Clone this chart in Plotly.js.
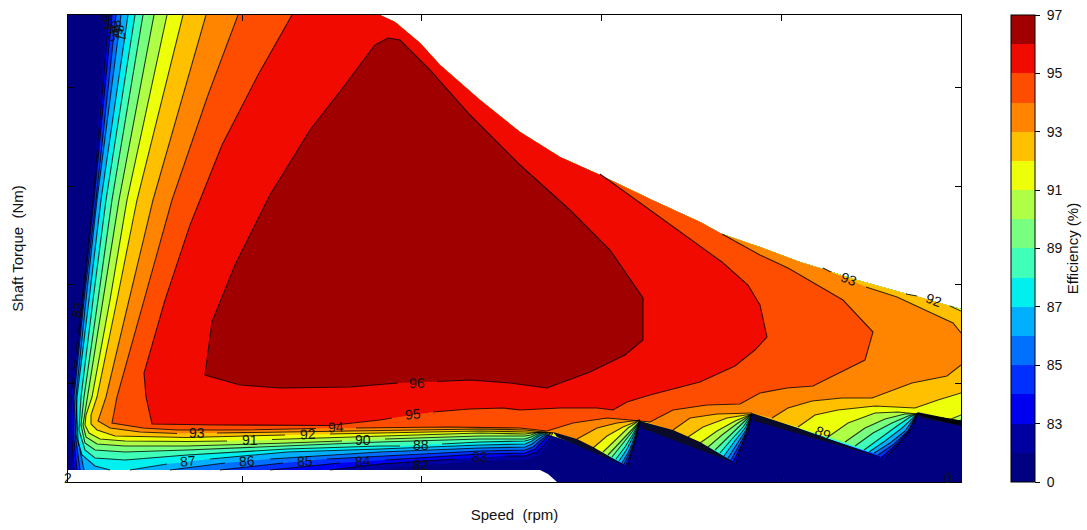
<!DOCTYPE html>
<html><head><meta charset="utf-8">
<script src="https://cdn.plot.ly/plotly-3.0.1.min.js"></script>
<style>html,body{margin:0;padding:0;background:#fff}#g{width:1087px;height:530px}</style>
</head><body><div id="g"></div>
<script>
// Efficiency levels and band colours (lowest band first)
const levelNames = ['0','83','85','87','89','91','93','95','97'];
const bandColors = ['#000080','#0000a0','#0000f0','#0030ff','#0070ff','#00b0ff','#00f0f0','#40ffb8','#78ff80','#b0ff47','#eeff0a','#ffc000','#ff8500','#ff4d00','#f00a00','#a00000'];

// Edge of the operating region: speed (rpm), torque (Nm)
const speedRim  = [8930,8320,7820,7550,7320,6920,6540,6320,5820,5320,4920,4520,4120,3720,3520,3270,3120,0];
const torqueRim = [173,190,204,213,220,235,248,260,283,307,325,350,382,417,439,460,467,467];
const speedFloor  = [0,4720,4800,4890,8930];
const torqueFloor = [12,12,8,0,0];

// Iso-efficiency contours; null = break in the drawn line
const speed82  = [380,240,130,20,20,30,null,3120,3320,null,3740,4120,4570,4720,4800,4850,null,5600,5720,null,6690,6840,null,8170,8490,8930];
const torque82 = [467,282,182,85,42,12,null,12,15,null,18,21,22,27,37,49,null,15,61,null,18,69,null,22,69,57];
const speed83  = [410,250,140,30,40,60,null,2620,3120,3870,null,4370,4570,4690,4780,4850,null,5600,5640,5680,5720,null,6680,6730,6790,6840,null,8170,8340,8450,8490,8930];
const torque83 = [467,282,182,85,42,12,null,12,18,23,null,26,26,30,39,49,null,16,31,46,61,null,19,35,52,68,null,24,41,55,68,57];
const speed84  = [440,260,150,50,60,90,null,2020,2720,null,3170,4120,4570,4670,4750,4830,null,5580,5630,5680,5720,null,6650,6720,6800,6840,null,8140,8300,8420,8490,8930];
const torque84 = [467,282,182,85,42,12,null,12,19,null,22,28,29,33,41,49,null,17,29,44,61,null,20,34,50,68,null,25,39,53,68,57];
const speed85  = [480,280,160,60,80,120,null,1520,2150,null,2590,3120,4120,4570,4650,4730,4820,null,5560,5620,5680,5720,null,6630,6700,6790,6840,null,8100,8260,8400,8490,8930];
const torque85 = [467,282,182,85,42,12,null,12,19,null,23,26,31,32,35,42,49,null,18,30,45,61,null,22,35,51,68,null,27,38,51,68,58];
const speed86  = [530,290,180,80,100,160,null,1020,1570,null,2020,3120,4120,4570,4640,4720,4800,null,5540,5610,5670,5720,null,6600,6680,6780,6840,null,8060,8220,8370,8490,8930];
const torque86 = [467,282,182,85,42,12,null,12,19,null,23,30,34,35,38,44,49,null,19,31,46,61,null,24,37,52,68,null,29,39,51,68,59];
const speed87  = [600,330,210,90,80,140,270,420,null,620,990,null,1420,2190,3120,4120,4570,4640,4710,4790,null,5510,5590,5660,5720,null,6560,6660,6770,6840,null,8010,8170,8340,8490,8930];
const torque87 = [467,282,182,85,47,27,16,12,null,12,18,null,23,30,33,37,38,41,46,49,null,21,33,47,61,null,26,40,54,68,null,30,41,54,68,60];
const speed88  = [670,380,250,130,110,170,270,570,1190,2190,3120,3320,null,3740,4120,4570,4640,4700,4780,null,5480,5570,5650,5720,null,6520,6630,6750,6840,null,7960,8120,8290,8420,8490,8930];
const torque88 = [467,282,182,85,52,32,24,22,27,33,36,36,null,38,40,41,43,47,50,null,23,35,48,61,null,29,42,55,68,null,32,44,56,65,68,61];
const speed89  = [750,440,300,160,130,170,270,570,1190,2190,3120,4120,4570,4630,4690,4770,null,5440,5540,5640,5720,null,6470,6590,6730,6840,null,7870,8050,8240,8400,8490,8930];
const torque89 = [467,282,182,85,57,39,32,30,32,36,40,43,43,45,48,50,null,25,37,50,61,null,32,44,57,68,null,36,49,59,66,68,61];
const speed90  = [860,510,350,190,150,180,290,570,1190,2190,2740,null,3170,4120,4570,4630,4680,4750,null,5400,5510,5620,5720,null,6400,6540,6700,6840,null,7770,7970,8170,8370,8490,8870,8930];
const torque90 = [467,282,182,85,57,45,38,36,36,39,41,null,43,46,46,47,49,50,null,27,39,51,61,null,35,47,59,68,null,40,54,63,68,68,59,62];
const speed91  = [990,590,420,240,180,170,210,320,570,1190,1590,null,2040,3120,4120,4570,4640,4720,null,5350,5470,5600,5720,null,6320,6490,6670,6840,null,7600,7800,8070,8300,8490,8780,8930];
const torque91 = [467,282,182,85,67,57,49,43,41,40.5,41,null,42.5,46,49,48,49,50,null,30,42,54,62,null,39,51,61,68,null,45,59,69,70,68,61,67];
const speed92  = [1150,690,490,290,230,230,290,470,1190,2170,null,2620,3120,4120,4570,4850,null,5250,5390,5550,5720,null,6200,6350,6590,6840,null,7300,7470,7700,8070,8470,8700,8930,null,8930,8820,null,8490,8380];
const torque92 = [467,282,182,85,67,58,52,46,44.5,47,null,48,49,51,50,49,null,34,46,55,62,null,45,55,64,68,null,55,67,72,76,74,82,89,null,171,176,null,186,188];
const speed93  = [1380,850,610,380,300,420,720,1090,null,1490,2190,3120,4120,4570,4850,null,5090,5290,5490,5720,null,6050,6220,6490,6840,null,7040,7200,7440,7740,8040,8440,8790,8930,null,8930,8850,8290,7980,null,7630,7550];
const torque93 = [467,282,182,85,61,54,50,48.5,null,49,50,52,53,52,49,null,43,54,59,62,null,52,64,68,69,null,64,74,81,84,84,99,106,117,null,149,159,185,195,null,210,214];
const speed94  = [1700,1400,1040,760,490,440,750,1090,1720,2480,null,2880,3790,4520,4790,5050,5390,5620,5820,6050,6390,6720,6920,7190,7450,7970,8050,7750,7200,6920,6540];
const torque94 = [467,387,282,182,85,59,54,52,52,53.5,null,54,55,54,51,59,64,62,60,72,77,78,89,94,96,122,150,182,214,227,248];
const speed95  = [2240,1900,1540,1220,970,760,780,840,1490,1990,2620,3120,3240,null,3650,4020,4350,4520,4920,5290,5450,5590,5820,6320,6670,6870,6990,6920,6800,6540,5820,5320];
const torque95 = [467,407,337,257,182,109,85,58,57,56.5,56.5,62,64,null,70,73,74,72,74,74,72,80,87,100,116,132,145,177,197,220,272,308];
const speed96  = [3690,4020,4420,4790,5220,5570,5750,5750,5420,5020,4520,4020,3620,3320,3200,3070,2770,2420,2020,1670,1440,1370,1720,2120,2820,3300];
const torque96 = [100.5,102,99,94,110,127,142,184,232,272,317,367,412,442,444,437,397,352,287,217,160,107,97,94,95,99];

// Steep drop along the sawtooth field-weakening edges
const speedRidge  = [4850,5090,5250,5600,4890,null,5720,6050,6320,6690,5730,null,6840,7300,8170,6860,null,8490,8930,8930,8530];
const torqueRidge = [50,43,35,15,45,null,61,52,40,18,54,null,69,54,23,61,null,70,61,56,64];

// Inline contour labels
const labelText   = ['87','86','85','84','82','83','93','91','92','94','90','88','95','96','82','93','92','89','84','86','85','87','2','0'];
const labelSpeed  = [1200,1790,2370,2950,3530,4120,1290,1820,2400,2680,2950,3530,3450,3490,100,7810,8660,7550,400,490,450,520,0,8800];
const labelTorque = [21,21,21,21,17,25,49,42,48,55,42,37,68,99,172,203,182,49,460,454,448,449,4,4];
const labelAngle  = [-5,-3,-3,-3,0,0,0,0,-3,-3,0,0,-5,-2,-80,20,20,25,80,80,80,80,0,0];

const xTicks = [1740,3530,5330,7130];
const yTicks = [99,198,296,395];

const contours = [
  [speed82,torque82],[speed83,torque83],[speed84,torque84],[speed85,torque85],[speed86,torque86],
  [speed87,torque87],[speed88,torque88],[speed89,torque89],[speed90,torque90],[speed91,torque91],
  [speed92,torque92],[speed93,torque93],[speed94,torque94],[speed95,torque95],[speed96,torque96]
];

const traces = [];
// Lowest band covers the whole operating region
traces.push({x:speedFloor.concat(speedRim),y:torqueFloor.concat(torqueRim),mode:'lines',line:{width:0},fill:'toself',fillcolor:bandColors[0],hoverinfo:'skip',showlegend:false});
// Each higher band painted over the previous one
contours.forEach(([sx,ty],i)=>{
  const px=[],py=[];
  sx.forEach((v,k)=>{ if(v!==null){px.push(v);py.push(ty[k]);} });
  if(py[0]===467){
    const first=px[0],last=px[px.length-1];
    speedRim.forEach((v,k)=>{ if(v<=last && v>first){px.push(v);py.push(torqueRim[k]);} });
  }
  traces.push({x:px,y:py,mode:'lines',line:{width:0},fill:'toself',fillcolor:bandColors[i+1],hoverinfo:'skip',showlegend:false});
});
traces.push({x:speedRidge,y:torqueRidge,mode:'lines',line:{width:0},fill:'toself',fillcolor:'#0a0a2a',hoverinfo:'skip',showlegend:false});
contours.forEach(([sx,ty],i)=>{
  if(i===0) return;
  traces.push({x:sx,y:ty,mode:'lines',line:{color:'rgba(0,0,0,0.78)',width:1.1},connectgaps:false,hoverinfo:'skip',showlegend:false});
});
// Stepped colour bar
const n=bandColors.length, scale=[];
bandColors.forEach((c,i)=>{scale.push([i/n,c]);scale.push([(i+1)/n,c]);});
traces.push({x:[-1000,-1000],y:[-1000,-1000],mode:'markers',showlegend:false,hoverinfo:'skip',
  marker:{color:[0,n],cmin:0,cmax:n,colorscale:scale,showscale:true,
    colorbar:{x:1.056,xanchor:'left',xpad:0,y:0,yanchor:'bottom',ypad:0,len:1,lenmode:'fraction',thickness:24,thicknessmode:'pixels',
      outlinecolor:'#000',outlinewidth:1,ticks:'outside',ticklen:5,tickcolor:'#000',tickwidth:1,
      tickmode:'array',tickvals:[0,2,4,6,8,10,12,14,16],ticktext:levelNames.map(s=>'\u00a0'+s),
      tickfont:{family:'Liberation Sans',size:14,color:'#111'},
      title:{text:'Efficiency (%)',side:'right',font:{family:'Liberation Sans',size:15,color:'#111'}}}}});

const annotations = labelText.map((t,i)=>({x:labelSpeed[i],y:labelTorque[i],xref:'x',yref:'y',text:t,showarrow:false,textangle:labelAngle[i],
  xanchor:'center',yanchor:'middle',font:{family:'Liberation Sans',size:14,color:'#111'}}));

const axisBase={showgrid:false,zeroline:false,showticklabels:false,ticks:'inside',ticklen:6,tickcolor:'#000',tickwidth:1,linecolor:'#000',linewidth:1,mirror:'ticks',tickmode:'array',fixedrange:true};
Plotly.newPlot('g',traces,{
  width:1087,height:530,showlegend:false,paper_bgcolor:'#fff',plot_bgcolor:'#fff',
  margin:{l:68,r:126,t:15,b:48,pad:0,autoexpand:false},
  font:{family:'Liberation Sans',color:'#111',size:13},
  xaxis:Object.assign({},axisBase,{range:[0,8930],tickvals:xTicks,title:{text:'Speed \u00a0(rpm)',standoff:27,font:{family:'Liberation Sans',size:15,color:'#111'}}}),
  yaxis:Object.assign({},axisBase,{range:[0,467],tickvals:yTicks,title:{text:'Shaft Torque \u00a0(Nm)',standoff:39,font:{family:'Liberation Sans',size:15,color:'#111'}}}),
  annotations:annotations
},{displayModeBar:false,staticPlot:true});
</script></body></html>
